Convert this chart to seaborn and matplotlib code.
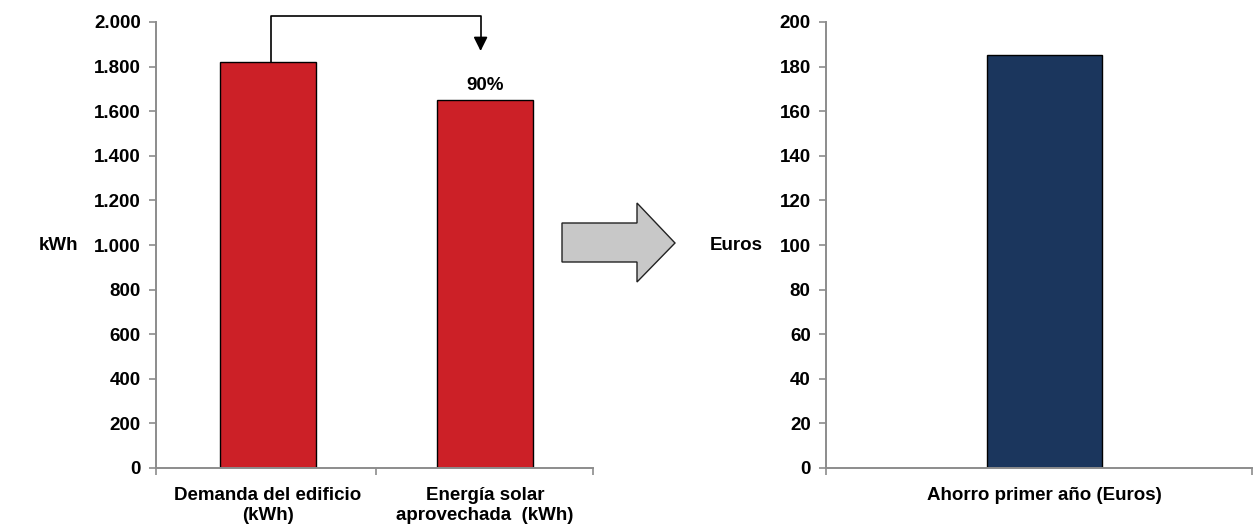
import matplotlib
matplotlib.use("Agg")
import matplotlib.pyplot as plt
from matplotlib.patches import Polygon
from matplotlib.ticker import FuncFormatter, MultipleLocator, FixedLocator
import seaborn as sns
import pandas as pd

sns.set_theme(style="white")
plt.rcParams["font.family"] = ["Liberation Sans", "DejaVu Sans"]
plt.rcParams["font.weight"] = "bold"
plt.rcParams["text.color"] = "black"
plt.rcParams["xtick.color"] = "black"
plt.rcParams["ytick.color"] = "black"

# Energy balance (kWh)
energy_categories = ["Demanda del edificio\n(kWh)", "Energía solar\naprovechada  (kWh)"]
energy_values = [1822, 1648]

# First-year savings (Euros)
savings_categories = ["Ahorro primer año (Euros)"]
savings_values = [185]

RED = "#CC2027"
NAVY = "#1B365D"
SPINE = "#8C8C8C"
FS = 13.5

fig = plt.figure(figsize=(12.53, 5.28), dpi=100)
fig.patch.set_facecolor("white")
ax1 = fig.add_axes([156 / 1253, 60 / 528, 437 / 1253, 446 / 528])
ax2 = fig.add_axes([826 / 1253, 60 / 528, 426 / 1253, 446 / 528])

df1 = pd.DataFrame({"cat": energy_categories, "val": energy_values})
df2 = pd.DataFrame({"cat": savings_categories, "val": savings_values})

sns.barplot(data=df1, x="cat", y="val", ax=ax1, color=RED, width=0.44,
            edgecolor="black", linewidth=1.0, saturation=1)
sns.barplot(data=df2, x="cat", y="val", ax=ax2, color=NAVY, width=0.27,
            edgecolor="black", linewidth=1.0, saturation=1)


def style_axes(ax, ymax, step, fmt, xlim, boundaries):
    ax.set_ylim(0, ymax)
    ax.set_xlim(*xlim)
    ax.yaxis.set_major_locator(MultipleLocator(step))
    ax.yaxis.set_major_formatter(FuncFormatter(fmt))
    ax.xaxis.set_minor_locator(FixedLocator(boundaries))
    ax.tick_params(axis="x", which="major", length=0, pad=14, labelsize=FS,
                   labelcolor="black")
    ax.tick_params(axis="x", which="minor", length=5, width=1.2,
                   color=SPINE, direction="out", bottom=True)
    ax.tick_params(axis="y", length=5, width=1.2, color=SPINE,
                   direction="out", left=True, pad=6, labelsize=FS,
                   labelcolor="black")
    for side in ("top", "right"):
        ax.spines[side].set_visible(False)
    for side in ("left", "bottom"):
        ax.spines[side].set_color(SPINE)
        ax.spines[side].set_linewidth(1.4)
    ax.set_xlabel("")
    ax.set_ylabel("")
    for lab in ax.get_xticklabels() + ax.get_yticklabels():
        lab.set_fontweight("bold")
        lab.set_color("black")


style_axes(ax1, 2000, 200, lambda v, p: f"{int(v):,}".replace(",", "."),
           (-0.516, 1.498), [-0.516, 0.5, 1.498])
style_axes(ax2, 200, 20, lambda v, p: f"{int(v)}",
           (-0.513, 0.487), [-0.513, 0.487])

# Axis titles placed to the left of the tick labels
fig.text(59 / 1253, 1 - 246 / 528, "kWh", ha="center", va="center",
         fontsize=FS, fontweight="bold", color="black")
fig.text(736 / 1253, 1 - 246 / 528, "Euros", ha="center", va="center",
         fontsize=FS, fontweight="bold", color="black")

# Connector from the demand bar to the solar bar, with the ratio above it
share = energy_values[1] / energy_values[0] * 100
top_y = 2025
x_from, x_to = 0.015, 0.98
ax1.plot([x_from, x_from, x_to, x_to], [energy_values[0], top_y, top_y, 1905],
         color="black", lw=1.2, clip_on=False, solid_capstyle="butt")
ax1.annotate("", xy=(x_to, 1870), xytext=(x_to, 1910),
             arrowprops=dict(arrowstyle="-|>,head_length=0.7,head_width=0.35",
                             color="black", lw=1.2, shrinkA=0, shrinkB=0),
             annotation_clip=False)
ax1.annotate(f"{share:.0f}%", xy=(1, energy_values[1]), xytext=(0, 5),
             textcoords="offset points", ha="center", va="bottom",
             fontsize=FS, fontweight="bold", color="black")

# Grey block arrow between the two panels
W, H = 1253, 528
pts = [(562, 223), (637, 223), (637, 203), (675, 243),
       (637, 282), (637, 262), (562, 262)]
arrow = Polygon([(x / W, 1 - y / H) for x, y in pts], closed=True,
                transform=fig.transFigure, facecolor="#C8C8C8",
                edgecolor="#222222", linewidth=1.0)
fig.patches.append(arrow)

fig.savefig("out.png", dpi=100, facecolor="white")
